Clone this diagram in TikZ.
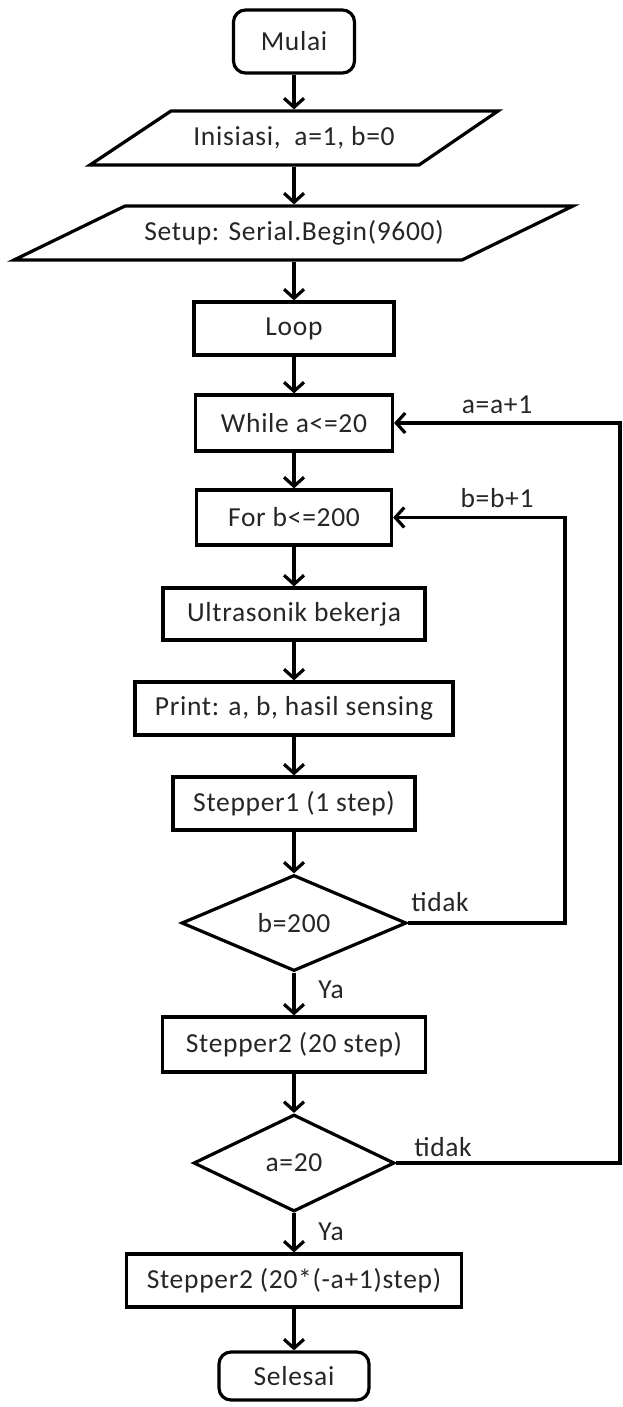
\documentclass[tikz,border=0pt]{standalone}
\usepackage{fontspec}
\setmainfont[LetterSpace=2.5]{Carlito}
\usetikzlibrary{arrows.meta,shapes.geometric}
\begin{document}
\begin{tikzpicture}[x=1pt,y=-1pt,line width=3.2pt,
  txt/.style={font=\fontsize{27.5}{32}\selectfont,text=black!85},
  box/.style={txt,draw,rectangle,inner sep=0pt},
  term/.style={box,rounded corners=12pt},
  io/.style={txt,rectangle,inner sep=0pt,minimum width=10pt},
  dec/.style={txt,draw,diamond,inner sep=0pt,aspect=2.3},
  arr/.style={-{Straight Barb[length=9pt,width=20pt]}},
  lab/.style={txt,inner sep=0pt}]
\useasboundingbox (0,0) rectangle (622,1407);
\fill[white] (0,0) rectangle (622,1407);

% nodes
\node[term,minimum width=121pt,minimum height=63pt] (mulai) at (294,41.5) {Mulai};
\draw (171,111) -- (498,111) -- (419,165) -- (90,165) -- cycle;
\node[io,minimum height=54pt] (ini) at (294,138) {Inisiasi,\ \ a=1, b=0};
\draw (125,206) -- (573,206) -- (462,260) -- (14,260) -- cycle;
\node[io,minimum height=54pt] (setup) at (294,233) {Setup: Serial.Begin(9600)};
\node[box,minimum width=200pt,minimum height=53pt] (loop) at (294,328.5) {Loop};
\node[box,minimum width=197pt,minimum height=56pt] (while) at (294,423) {While a<=20};
\node[box,minimum width=195pt,minimum height=55pt] (for) at (294,517.5) {For b<=200};
\node[box,minimum width=262pt,minimum height=52pt] (ultra) at (294,614) {Ultrasonik bekerja};
\node[box,minimum width=318pt,minimum height=53pt] (print) at (294,708.5) {Print: a, b, hasil sensing};
\node[box,minimum width=242pt,minimum height=53pt] (stepa) at (294,803.5) {Stepper1 (1 step)};
\node[dec,minimum width=225pt,minimum height=96pt] (db) at (294,923) {b=200};
\node[box,minimum width=263pt,minimum height=55pt] (stepb) at (294,1044.5) {Stepper2 (20 step)};
\node[dec,minimum width=201pt,minimum height=97pt] (da) at (294,1163) {a=20};
\node[box,minimum width=335pt,minimum height=53pt] (stepc) at (294,1280.5) {Stepper2 (20*(-a+1)step)};
\node[term,minimum width=150pt,minimum height=48pt] (sel) at (294,1376) {Selesai};

% loop corners
\coordinate (bc1) at (565,923);
\coordinate (bc2) at (565,517.5);
\coordinate (ac1) at (620,1163);
\coordinate (ac2) at (620,423);

% connectors
\draw[arr] (mulai) -- (ini);
\draw[arr] (ini) -- (setup);
\draw[arr] (setup) -- (loop);
\draw[arr] (loop) -- (while);
\draw[arr] (while) -- (for);
\draw[arr] (for) -- (ultra);
\draw[arr] (ultra) -- (print);
\draw[arr] (print) -- (stepa);
\draw[arr] (stepa) -- (db);
\draw[arr] (db) -- (stepb);
\draw[arr] (stepb) -- (da);
\draw[arr] (da) -- (stepc);
\draw[arr] (stepc) -- (sel);
\draw[arr] (db.east) -- (bc1) -- (bc2) -- (for.east);
\draw[arr] (da.east) -- (ac1) -- (ac2) -- (while.east);

% labels
\node[lab] (la1) at (497,405) {a=a+1};
\node[lab] (lb1) at (497,498) {b=b+1};
\node[lab] (t1) at (440,902) {tidak};
\node[lab] (t2) at (443,1147) {tidak};
\node[lab] (y1) at (331,990) {Ya};
\node[lab] (y2) at (331,1232) {Ya};
\end{tikzpicture}
\end{document}
